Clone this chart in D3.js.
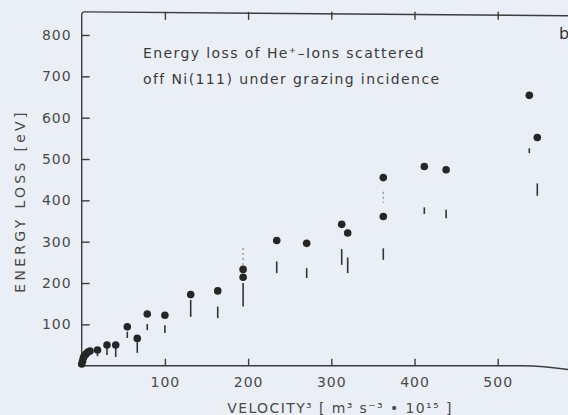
<!DOCTYPE html>
<html>
<head>
<meta charset="utf-8">
<script src="https://cdn.jsdelivr.net/npm/d3@7"></script>
<style>
  body { margin: 0; background: #eaeff6; }
  svg { display: block; }
</style>
</head>
<body>
<div id="chart"></div>
<script>
// velocity^3 [m3 s-3 * 1e15] and energy loss [eV]
var velocity3 = [0, 1, 2, 3, 5, 7.5, 10, 19, 30.4, 40.9, 54.8, 66.8, 78.8, 100, 131, 163.5,
                 194, 194, 234.4, 270.4, 312.5, 319.7, 362.5, 362.5, 411.8, 438, 538, 547.6];
var energyLoss = [4, 11, 19, 23.5, 28, 33, 35.5, 38, 50, 50, 94, 66, 125, 122, 172, 181,
                  233, 214, 303, 296, 342, 321, 455, 361, 482, 474, 654, 552];
// lower error bar segment (top/bottom of the visible stroke), null = none
var barTop = [null, null, null, null, null, null, null, 33, 44, 44, 82, 57, 101, 98, 159, 143,
              null, 200, 252, 236, 282, 262, null, 284, 383, 377, 526, 441];
var barBottom = [null, null, null, null, null, null, null, 23, 26, 21, 67, 31, 86, 79, 118, 115,
                 null, 143, 224, 212, 244, 224, null, 256, 367, 357, 514, 411];
// faint dashed pieces of bars
var dashX = [194, 362.5];
var dashTop = [285, 421];
var dashBottom = [243, 394];

var xTicks = [100, 200, 300, 400, 500];
var yTicks = [100, 200, 300, 400, 500, 600, 700, 800];

function init() {
	var w = 568;
	var h = 415;

	var x = d3.scaleLinear().domain([0, 500]).range([81.7, 497.7]);
	var y = d3.scaleLinear().domain([0, 800]).range([365.7, 35]);
	var yTop = 856;   // top frame line
	var xEnd = 600;

	var svg = d3.select("#chart").append("svg")
		.attr("width", w)
		.attr("height", h);

	svg.append("rect").attr("width", w).attr("height", h).attr("fill", "#eaeff6");

	var ink = "#3c3c3c";

	// frame lines
	var frame = svg.append("g").attr("fill", "none").attr("stroke", ink).attr("stroke-width", 1.4);
	frame.append("path")
		.attr("d", "M" + x(0) + "," + y(0) + "L" + x(0) + "," + (y(yTop) + 3)
			+ "Q" + x(0) + "," + y(yTop) + " " + (x(0) + 3) + "," + y(yTop)
			+ "L" + x(xEnd) + "," + (y(yTop) + 4));
	frame.append("path")
		.attr("d", "M" + x(0) + "," + y(0) + "L" + x(530) + "," + y(0)
			+ "Q" + x(560) + "," + y(0) + " " + x(xEnd) + "," + (y(0) + 6));

	var tickFont = function(g) {
		g.select(".domain").remove();
		g.selectAll(".tick line").attr("stroke", ink).attr("stroke-width", 1.4);
		g.selectAll(".tick text")
			.attr("fill", "#4a4a4a")
			.style("font-family", "DejaVu Sans")
			.style("font-size", "14px")
			.style("letter-spacing", "1px");
	};

	svg.append("g")
		.attr("transform", "translate(" + x(0) + ",0)")
		.call(d3.axisLeft(y).tickValues(yTicks).tickSize(-8).tickPadding(10).tickFormat(d3.format("d")))
		.call(tickFont);

	svg.append("g")
		.attr("transform", "translate(0," + y(0) + ")")
		.call(d3.axisBottom(x).tickValues(xTicks).tickSize(-7).tickPadding(11).tickFormat(d3.format("d")))
		.call(tickFont);

	svg.append("g")
		.attr("transform", "translate(0," + y(yTop) + ")")
		.call(d3.axisTop(x).tickValues(xTicks).tickSize(-8).tickFormat(""))
		.call(tickFont);

	// error bars
	var idx = d3.range(velocity3.length).filter(function(i) { return barTop[i] != null; });
	svg.append("g").selectAll("line")
		.data(idx)
		.enter().append("line")
		.attr("x1", function(i) { return x(velocity3[i]); })
		.attr("x2", function(i) { return x(velocity3[i]); })
		.attr("y1", function(i) { return y(barTop[i]); })
		.attr("y2", function(i) { return y(barBottom[i]); })
		.attr("stroke", "#333")
		.attr("stroke-width", 1.6);

	svg.append("g").selectAll("line")
		.data(dashX)
		.enter().append("line")
		.attr("x1", function(d) { return x(d); })
		.attr("x2", function(d) { return x(d); })
		.attr("y1", function(d, i) { return y(dashTop[i]); })
		.attr("y2", function(d, i) { return y(dashBottom[i]); })
		.attr("stroke", "#888")
		.attr("stroke-width", 1.2)
		.attr("stroke-dasharray", "2,3");

	// points
	svg.append("g").selectAll("circle")
		.data(velocity3)
		.enter().append("circle")
		.attr("cx", function(d) { return x(d); })
		.attr("cy", function(d, i) { return y(energyLoss[i]); })
		.attr("r", 3.8)
		.attr("fill", "#262626");

	// annotation
	var note = svg.append("g")
		.attr("fill", "#3a3a3a")
		.style("font-family", "DejaVu Sans")
		.style("font-size", "14px")
		.style("letter-spacing", "1.4px");
	note.append("text").attr("x", 143).attr("y", 58).text("Energy loss of He⁺–Ions scattered");
	note.append("text").attr("x", 143).attr("y", 84).text("off Ni(111) under grazing incidence");

	// axis titles
	svg.append("text")
		.attr("x", 340)
		.attr("y", 413)
		.attr("text-anchor", "middle")
		.attr("fill", "#4a4a4a")
		.style("font-family", "DejaVu Sans")
		.style("font-size", "14px")
		.style("letter-spacing", "1.4px")
		.text("VELOCITY³ [ m³ s⁻³ • 10¹⁵ ]");

	svg.append("text")
		.attr("transform", "translate(25,201) rotate(-90)")
		.attr("text-anchor", "middle")
		.attr("fill", "#4a4a4a")
		.style("font-family", "DejaVu Sans")
		.style("font-size", "14px")
		.style("letter-spacing", "3.3px")
		.text("ENERGY LOSS [eV]");

	svg.append("text")
		.attr("x", 559)
		.attr("y", 39)
		.attr("fill", "#333")
		.style("font-family", "DejaVu Sans")
		.style("font-size", "16px")
		.text("b");
}

window.onload = init;
</script>
</body>
</html>
